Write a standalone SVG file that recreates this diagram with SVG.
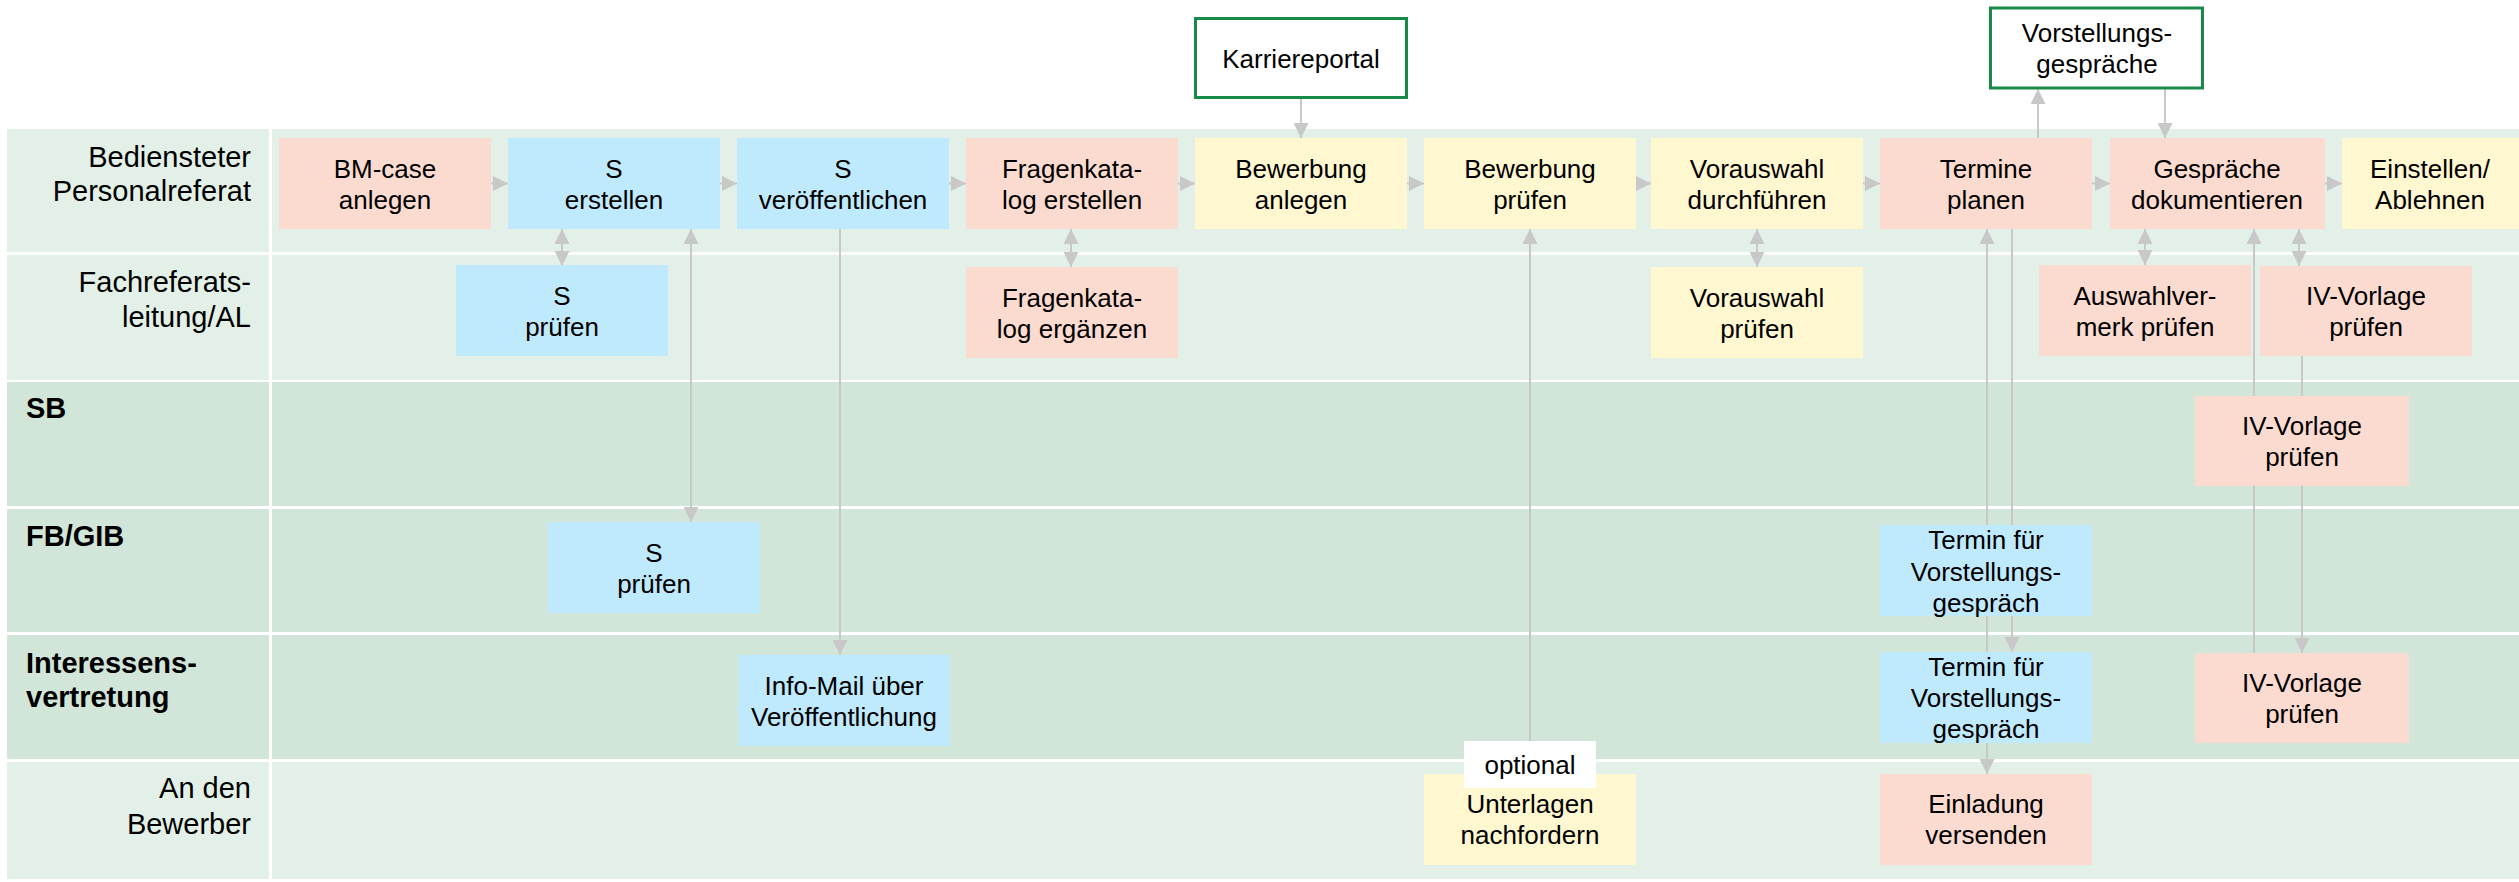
<svg xmlns="http://www.w3.org/2000/svg" width="2519" height="882" viewBox="0 0 2519 882">
<defs>
<style>
.bg{fill:#ffffff}
.ll{fill:#E3F0E7}
.ld{fill:#D1E5D8}
.pink{fill:#FBDBCF}
.blue{fill:#BFE9FC}
.yellow{fill:#FFF7D0}
.ext{fill:#ffffff;stroke:#188A48;stroke-width:3}
.opt{fill:#ffffff}
text{font-family:"Liberation Sans",Arial,Helvetica,sans-serif;font-size:26px;fill:#000000}
.t{text-anchor:middle}
.lbl{font-size:29px;text-anchor:end}
.lblb{font-size:29px;font-weight:bold}
.c{stroke:#C8C8C8;stroke-width:2;fill:none}
.ca{stroke:#C8C8C8;stroke-width:2;fill:none;marker-end:url(#ah)}
.cb{stroke:#C8C8C8;stroke-width:2;fill:none;marker-start:url(#ah);marker-end:url(#ah)}
</style>
<marker id="ah" viewBox="0 0 15 15" refX="15" refY="7.5" markerWidth="15" markerHeight="15" markerUnits="userSpaceOnUse" orient="auto-start-reverse">
<path d="M0,0 L15,7.5 L0,15 Z" fill="#C8C8C8"/>
</marker>
</defs>
<rect class="bg" x="0" y="0" width="2519" height="882"/>

<g id="lanes">
<rect class="ll" x="7" y="129" width="262" height="123"/>
<rect class="ll" x="272" y="129" width="2247" height="123"/>
<rect class="ll" x="7" y="255" width="262" height="125"/>
<rect class="ll" x="272" y="255" width="2247" height="125"/>
<rect class="ld" x="7" y="382" width="262" height="124"/>
<rect class="ld" x="272" y="382" width="2247" height="124"/>
<rect class="ld" x="7" y="509" width="262" height="123"/>
<rect class="ld" x="272" y="509" width="2247" height="123"/>
<rect class="ld" x="7" y="635" width="262" height="124"/>
<rect class="ld" x="272" y="635" width="2247" height="124"/>
<rect class="ll" x="7" y="762" width="262" height="117"/>
<rect class="ll" x="272" y="762" width="2247" height="117"/>
<text class="lbl" x="251" y="167">Bediensteter</text>
<text class="lbl" x="251" y="201">Personalreferat</text>
<text class="lbl" x="251" y="292">Fachreferats-</text>
<text class="lbl" x="251" y="327">leitung/AL</text>
<text class="lblb" x="26" y="418">SB</text>
<text class="lblb" x="26" y="546">FB/GIB</text>
<text class="lblb" x="26" y="673">Interessens-</text>
<text class="lblb" x="26" y="707">vertretung</text>
<text class="lbl" x="251" y="798">An den</text>
<text class="lbl" x="251" y="834">Bewerber</text>
</g>

<g id="connectors">
<path class="ca" d="M491,183.5 H508"/>
<path class="ca" d="M720,183.5 H737"/>
<path class="ca" d="M949,183.5 H966"/>
<path class="ca" d="M1178,183.5 H1195"/>
<path class="ca" d="M1407,183.5 H1424"/>
<path class="ca" d="M1636,183.5 H1651"/>
<path class="ca" d="M1863,183.5 H1880"/>
<path class="ca" d="M2092,183.5 H2110"/>
<path class="ca" d="M2325,183.5 H2342"/>
<path class="ca" d="M1301,99 V138"/>
<path class="ca" d="M2038,138 V89"/>
<path class="ca" d="M2165,89 V138"/>
<path class="cb" d="M562,229 V266"/>
<path class="cb" d="M691,229 V522"/>
<path class="ca" d="M840,229 V655"/>
<path class="cb" d="M1071,229 V267"/>
<path class="ca" d="M1530,741 V229"/>
<path class="cb" d="M1757,229 V267"/>
<path class="cb" d="M1987,229 V774"/>
<path class="ca" d="M2012,229 V652"/>
<path class="cb" d="M2145,229 V265"/>
<path class="ca" d="M2254,653 V229"/>
<path class="cb" d="M2299,229 V266"/>
<path class="ca" d="M2302,349 V653"/>
</g>

<g id="n-karriereportal">
<rect class="ext" x="1195.5" y="18.5" width="211" height="79"/>
<text class="t" x="1301" y="68">Karriereportal</text>
</g>
<g id="n-vorstellungsgespraeche">
<rect class="ext" x="1990.5" y="8" width="212" height="80"/>
<text class="t" x="2097" y="42">Vorstellungs-</text>
<text class="t" x="2097" y="73">gespräche</text>
</g>

<g id="n-bmcase-anlegen">
<rect class="pink" x="279" y="138" width="212" height="91"/>
<text class="t" x="385" y="178">BM-case</text>
<text class="t" x="385" y="209">anlegen</text>
</g>
<g id="n-s-erstellen">
<rect class="blue" x="508" y="138" width="212" height="91"/>
<text class="t" x="614" y="178">S</text>
<text class="t" x="614" y="209">erstellen</text>
</g>
<g id="n-s-veroeffentlichen">
<rect class="blue" x="737" y="138" width="212" height="91"/>
<text class="t" x="843" y="178">S</text>
<text class="t" x="843" y="209">veröffentlichen</text>
</g>
<g id="n-fragenkatalog-erstellen">
<rect class="pink" x="966" y="138" width="212" height="91"/>
<text class="t" x="1072" y="178">Fragenkata-</text>
<text class="t" x="1072" y="209">log erstellen</text>
</g>
<g id="n-bewerbung-anlegen">
<rect class="yellow" x="1195" y="138" width="212" height="91"/>
<text class="t" x="1301" y="178">Bewerbung</text>
<text class="t" x="1301" y="209">anlegen</text>
</g>
<g id="n-bewerbung-pruefen">
<rect class="yellow" x="1424" y="138" width="212" height="91"/>
<text class="t" x="1530" y="178">Bewerbung</text>
<text class="t" x="1530" y="209">prüfen</text>
</g>
<g id="n-vorauswahl-durchfuehren">
<rect class="yellow" x="1651" y="138" width="212" height="91"/>
<text class="t" x="1757" y="178">Vorauswahl</text>
<text class="t" x="1757" y="209">durchführen</text>
</g>
<g id="n-termine-planen">
<rect class="pink" x="1880" y="138" width="212" height="91"/>
<text class="t" x="1986" y="178">Termine</text>
<text class="t" x="1986" y="209">planen</text>
</g>
<g id="n-gespraeche-dokumentieren">
<rect class="pink" x="2110" y="138" width="215" height="91"/>
<text class="t" x="2217" y="178">Gespräche</text>
<text class="t" x="2217" y="209">dokumentieren</text>
</g>
<g id="n-einstellen-ablehnen">
<rect class="yellow" x="2342" y="138" width="177" height="91"/>
<text class="t" x="2430" y="178">Einstellen/</text>
<text class="t" x="2430" y="209">Ablehnen</text>
</g>

<g id="n-s-pruefen-al">
<rect class="blue" x="456" y="265" width="212" height="91"/>
<text class="t" x="562" y="305">S</text>
<text class="t" x="562" y="336">prüfen</text>
</g>
<g id="n-fragenkatalog-ergaenzen">
<rect class="pink" x="966" y="267" width="212" height="91"/>
<text class="t" x="1072" y="307">Fragenkata-</text>
<text class="t" x="1072" y="338">log ergänzen</text>
</g>
<g id="n-vorauswahl-pruefen">
<rect class="yellow" x="1651" y="267" width="212" height="91"/>
<text class="t" x="1757" y="307">Vorauswahl</text>
<text class="t" x="1757" y="338">prüfen</text>
</g>
<g id="n-auswahlvermerk-pruefen">
<rect class="pink" x="2039" y="265" width="212" height="91"/>
<text class="t" x="2145" y="305">Auswahlver-</text>
<text class="t" x="2145" y="336">merk prüfen</text>
</g>
<g id="n-iv-vorlage-al">
<rect class="pink" x="2260" y="266" width="212" height="90"/>
<text class="t" x="2366" y="305">IV-Vorlage</text>
<text class="t" x="2366" y="336">prüfen</text>
</g>

<g id="n-iv-vorlage-sb">
<rect class="pink" x="2195" y="396" width="214" height="90"/>
<text class="t" x="2302" y="435">IV-Vorlage</text>
<text class="t" x="2302" y="466">prüfen</text>
</g>

<g id="n-s-pruefen-fb">
<rect class="blue" x="548" y="522" width="212" height="91"/>
<text class="t" x="654" y="562">S</text>
<text class="t" x="654" y="593">prüfen</text>
</g>
<g id="n-termin-fb">
<rect class="blue" x="1880" y="525" width="212" height="91"/>
<text class="t" x="1986" y="549">Termin für</text>
<text class="t" x="1986" y="581">Vorstellungs-</text>
<text class="t" x="1986" y="612">gespräch</text>
</g>

<g id="n-infomail">
<rect class="blue" x="738" y="655" width="212" height="91"/>
<text class="t" x="844" y="695">Info-Mail über</text>
<text class="t" x="844" y="726">Veröffentlichung</text>
</g>
<g id="n-termin-iv">
<rect class="blue" x="1880" y="652" width="212" height="91"/>
<text class="t" x="1986" y="676">Termin für</text>
<text class="t" x="1986" y="707">Vorstellungs-</text>
<text class="t" x="1986" y="738">gespräch</text>
</g>
<g id="n-iv-vorlage-iv">
<rect class="pink" x="2195" y="653" width="214" height="90"/>
<text class="t" x="2302" y="692">IV-Vorlage</text>
<text class="t" x="2302" y="723">prüfen</text>
</g>

<g id="n-unterlagen-nachfordern">
<rect class="yellow" x="1424" y="774" width="212" height="91"/>
<text class="t" x="1530" y="813">Unterlagen</text>
<text class="t" x="1530" y="844">nachfordern</text>
</g>
<g id="n-optional">
<rect class="opt" x="1464" y="741" width="132" height="47"/>
<text class="t" x="1530" y="774">optional</text>
</g>
<g id="n-einladung-versenden">
<rect class="pink" x="1880" y="774" width="212" height="91"/>
<text class="t" x="1986" y="813">Einladung</text>
<text class="t" x="1986" y="844">versenden</text>
</g>
</svg>
